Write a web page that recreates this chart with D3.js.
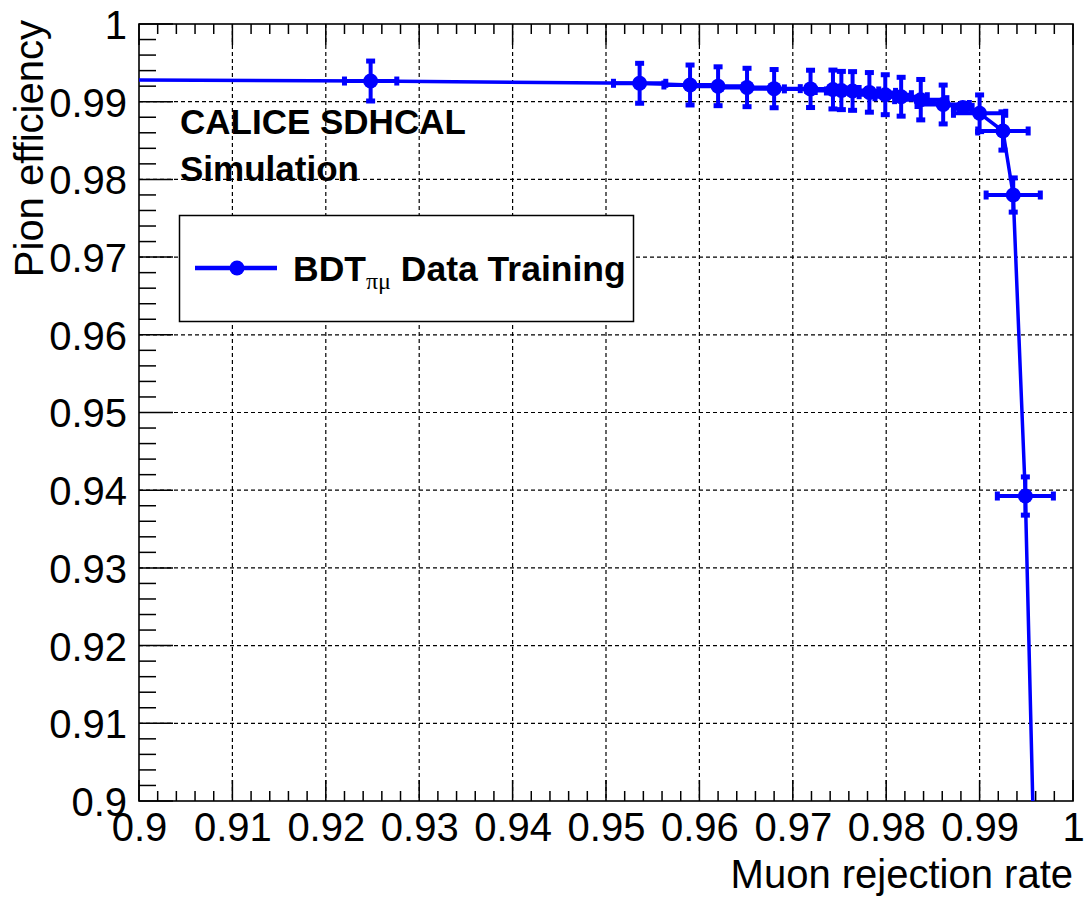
<!DOCTYPE html>
<html>
<head>
<meta charset="utf-8">
<script src="https://cdn.jsdelivr.net/npm/d3@7"></script>
<style>
  body { margin: 0; background: #fff; }
  svg { display: block; }
  text { font-family: "Liberation Sans", Arial, Helvetica, sans-serif; }
</style>
</head>
<body>
<svg id="chart" width="1086" height="899"></svg>
<script>
// ---- data ----
const muonRejection = [0.8700, 0.9248, 0.9536, 0.9590, 0.9620, 0.9651, 0.9680, 0.9719, 0.9743, 0.9752, 0.9764, 0.9782, 0.9799, 0.9816, 0.9837, 0.9861, 0.9882, 0.9900, 0.9925, 0.9936, 0.9949, 0.9967];
const pionEfficiency = [0.99292, 0.99266, 0.99237, 0.99215, 0.99199, 0.99183, 0.99168, 0.99165, 0.99157, 0.99144, 0.99138, 0.99120, 0.99090, 0.99064, 0.99026, 0.98964, 0.98925, 0.98851, 0.98623, 0.97799, 0.93925, 0.85000];
const muonRejectionErr = [0.0028, 0.0028, 0.0028, 0.0028, 0.0028, 0.0028, 0.0028, 0.0028, 0.0028, 0.0028, 0.0028, 0.0028, 0.0028, 0.0028, 0.0028, 0.0028, 0.0010, 0.0028, 0.0027, 0.0029, 0.0030, 0.0030];
const pionEfficiencyErr = [0.0025, 0.00257, 0.00257, 0.00257, 0.0025, 0.00247, 0.00246, 0.0024, 0.0025, 0.00246, 0.00249, 0.00255, 0.00257, 0.0025, 0.0026, 0.0025, 0.0004, 0.00236, 0.00246, 0.0022, 0.00246, 0.0025];
const xTicks = [0.9, 0.91, 0.92, 0.93, 0.94, 0.95, 0.96, 0.97, 0.98, 0.99, 1];
const yTicks = [0.9, 0.91, 0.92, 0.93, 0.94, 0.95, 0.96, 0.97, 0.98, 0.99, 1];
const xLabel = "Muon rejection rate";
const yLabel = "Pion efficiency";
const textLines = ["CALICE SDHCAL", "Simulation"];
const legendMain = "BDT";
const legendSub = "πμ";
const legendRest = " Data Training";

// ---- layout ----
const svg = d3.select("#chart");
const L = 139, R = 1073, T = 24, B = 801;
const x = d3.scaleLinear().domain([0.9, 1]).range([L, R]);
const y = d3.scaleLinear().domain([0.9, 1]).range([B, T]);
const blue = "#0000ff";

// grid
const grid = svg.append("g");
grid.selectAll("line.gx").data(xTicks.slice(1, -1)).join("line")
  .attr("x1", d => x(d)).attr("x2", d => x(d)).attr("y1", T).attr("y2", B)
  .attr("stroke", "#000").attr("stroke-width", 1.2).attr("stroke-dasharray", "4,3");
grid.selectAll("line.gy").data(yTicks.slice(1, -1)).join("line")
  .attr("y1", d => y(d)).attr("y2", d => y(d)).attr("x1", L).attr("x2", R)
  .attr("stroke", "#000").attr("stroke-width", 1.2).attr("stroke-dasharray", "4,3");

// axes (ticks)
const minorX = d3.range(0, 51).map(i => 0.9 + i * 0.002);
const minorY = d3.range(0, 51).map(i => 0.9 + i * 0.002);
const fmt = d => (d === 1 ? "1" : d3.format(".2~f")(d));

const axes = svg.append("g");
function drawXTicks(yPos, dir) {
  axes.append("g").selectAll("line").data(minorX).join("line")
    .attr("x1", d => x(d)).attr("x2", d => x(d))
    .attr("y1", yPos)
    .attr("y2", (d, i) => yPos + dir * (i % 5 === 0 ? 21 : 10))
    .attr("stroke", "#000").attr("stroke-width", 1.5);
}
drawXTicks(B, -1);
drawXTicks(T, 1);
axes.append("g").selectAll("line").data(minorY).join("line")
  .attr("y1", d => y(d)).attr("y2", d => y(d))
  .attr("x1", L)
  .attr("x2", (d, i) => L + (i % 5 === 0 ? 34 : 17))
  .attr("stroke", "#000").attr("stroke-width", 1.5);

// tick labels via d3 axes (no lines)
const gxl = svg.append("g").attr("transform", `translate(0,${B})`)
  .call(d3.axisBottom(x).tickValues(xTicks).tickSize(0).tickPadding(0).tickFormat(fmt));
gxl.select(".domain").remove();
gxl.selectAll("text").attr("font-size", 40).attr("fill", "#000")
  .attr("dy", null).attr("y", 40);
const gyl = svg.append("g").attr("transform", `translate(${L},0)`)
  .call(d3.axisLeft(y).tickValues(yTicks).tickSize(0).tickPadding(12).tickFormat(fmt));
gyl.select(".domain").remove();
gyl.selectAll("text").attr("font-size", 40).attr("fill", "#000").attr("dy", "0.36em");

// frame
svg.append("rect").attr("x", L).attr("y", T).attr("width", R - L).attr("height", B - T)
  .attr("fill", "none").attr("stroke", "#000").attr("stroke-width", 1.6);

// axis titles
svg.append("text").attr("x", R).attr("y", 888).attr("text-anchor", "end")
  .attr("font-size", 40).attr("fill", "#000").text(xLabel);
svg.append("text").attr("transform", `translate(43,${T - 4}) rotate(-90)`)
  .attr("text-anchor", "end").attr("font-size", 40).attr("fill", "#000").text(yLabel);

// data
svg.append("clipPath").attr("id", "clip").append("rect")
  .attr("x", L).attr("y", T).attr("width", R - L).attr("height", B - T);
const data = muonRejection.map((v, i) => ({ x: v, y: pionEfficiency[i], ex: muonRejectionErr[i], ey: pionEfficiencyErr[i] }));
const plot = svg.append("g").attr("clip-path", "url(#clip)");

plot.append("path").datum(data)
  .attr("d", d3.line().x(d => x(d.x)).y(d => y(d.y)))
  .attr("fill", "none").attr("stroke", blue).attr("stroke-width", 3.5);

const eb = plot.append("g").attr("stroke", blue).attr("stroke-width", 4);
eb.selectAll("line.h").data(data).join("line")
  .attr("x1", d => x(d.x - d.ex)).attr("x2", d => x(d.x + d.ex))
  .attr("y1", d => y(d.y)).attr("y2", d => y(d.y));
eb.selectAll("line.v").data(data).join("line")
  .attr("x1", d => x(d.x)).attr("x2", d => x(d.x))
  .attr("y1", d => y(d.y - d.ey)).attr("y2", d => y(d.y + d.ey));
const caps = plot.append("g").attr("fill", blue);
data.forEach(d => {
  [-1, 1].forEach(s => {
    caps.append("rect").attr("x", x(d.x + s * d.ex) - 2.5).attr("y", y(d.y) - 4.5)
      .attr("width", 5).attr("height", 9);
    caps.append("rect").attr("x", x(d.x) - 4.5).attr("y", y(d.y + s * d.ey) - 2.5)
      .attr("width", 9).attr("height", 5);
  });
});
plot.selectAll("circle").data(data).join("circle")
  .attr("cx", d => x(d.x)).attr("cy", d => y(d.y)).attr("r", 7.5).attr("fill", blue);

// text labels
svg.append("text").attr("x", 180).attr("y", 134).attr("font-size", 35).attr("font-weight", "bold")
  .attr("fill", "#000").text(textLines[0]);
svg.append("text").attr("x", 180).attr("y", 181).attr("font-size", 35).attr("font-weight", "bold")
  .attr("fill", "#000").text(textLines[1]);

// legend
const lg = svg.append("g");
lg.append("rect").attr("x", 179.5).attr("y", 215.5).attr("width", 454).attr("height", 106)
  .attr("fill", "#fff").attr("stroke", "#000").attr("stroke-width", 1.5);
lg.append("line").attr("x1", 195).attr("x2", 277).attr("y1", 268).attr("y2", 268)
  .attr("stroke", blue).attr("stroke-width", 4.5);
lg.append("circle").attr("cx", 237).attr("cy", 268).attr("r", 7.5).attr("fill", blue);
const lt = lg.append("text").attr("x", 293).attr("y", 281).attr("font-size", 35.5)
  .attr("font-weight", "bold").attr("fill", "#000");
lt.append("tspan").text(legendMain);
lt.append("tspan").attr("dy", 8).attr("font-size", 24).attr("font-weight", "normal")
  .attr("font-family", "'Liberation Serif', 'DejaVu Serif', serif").text(legendSub);
lt.append("tspan").attr("dy", -8).text(legendRest);
</script>
</body>
</html>
